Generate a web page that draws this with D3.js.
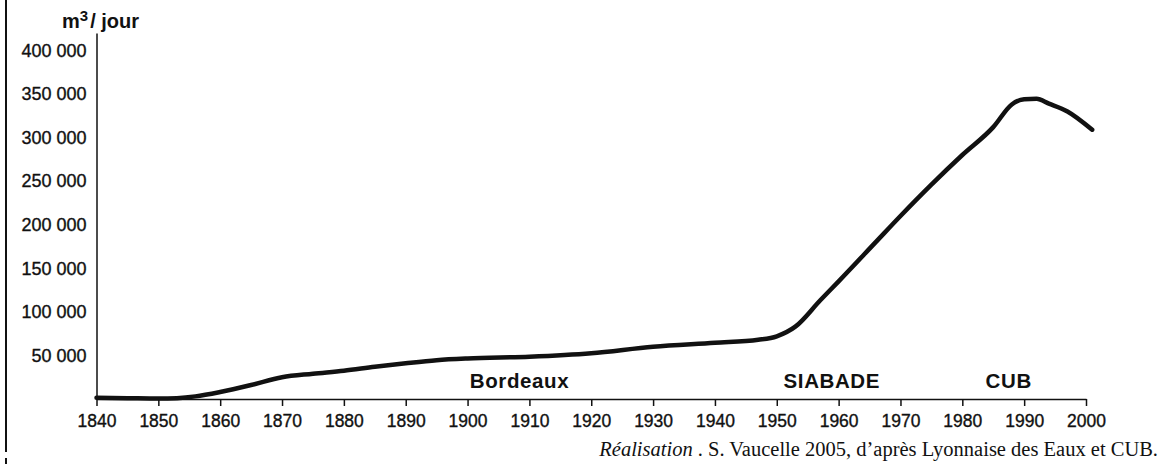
<!DOCTYPE html>
<html>
<head>
<meta charset="utf-8">
<script src="https://cdn.jsdelivr.net/npm/d3@7"></script>
<style>
  body { margin: 0; background: #fff; }
  svg { display: block; }
  .axis text { font-family: "Liberation Sans", Arial, sans-serif; font-size: 17.5px; fill: #111; stroke: #111; stroke-width: 0.35; }
  .axis path, .axis line { stroke: #111; stroke-width: 1.5; }
</style>
</head>
<body>
<div class="canvas"></div>
<script>
// Data (m3 / jour)
const years = [1840, 1845, 1850, 1853, 1856, 1860, 1865, 1870, 1875, 1880, 1885, 1890, 1895, 1900,
  1910, 1920, 1930, 1940, 1947, 1950, 1953, 1957, 1960, 1966, 1970, 1975, 1980, 1985, 1988,
  1990, 1992, 1994, 1997, 2001];
const volumes = [1500, 1000, 500, 1000, 3000, 8000, 16000, 25000, 29000, 32500, 37000, 41000, 44500, 46500,
  48500, 52500, 60000, 64500, 68000, 72000, 83000, 113000, 135000, 180000, 210000, 246000, 280000, 312000, 338000,
  344000, 344500, 339000, 330000, 309000];
const xTicks = d3.range(1840, 2001, 10);
const yTicks = [50000, 100000, 150000, 200000, 250000, 300000, 350000, 400000];
const periods = [
  { name: "Bordeaux", year: 1908.4 },
  { name: "SIABADE", year: 1958.9 },
  { name: "CUB", year: 1987.5 }
];

const width = 1166, height = 465;
const svg = d3.select(".canvas").append("svg")
  .attr("width", width)
  .attr("height", height);

const x = d3.scaleLinear().domain([1840, 2000]).range([96.5, 1086]);
const y = d3.scaleLinear().domain([0, 420000]).range([399, 33]);

const fmt = d3.formatLocale({ decimal: ",", thousands: " ", grouping: [3], currency: ["", ""] }).format(",");

// left frame line
svg.append("line")
  .attr("x1", 6).attr("x2", 6).attr("y1", 0).attr("y2", 452)
  .attr("stroke", "#111").attr("stroke-width", 2);
svg.append("line")
  .attr("x1", 6).attr("x2", 6).attr("y1", 458).attr("y2", 464)
  .attr("stroke", "#111").attr("stroke-width", 2);

// axes
svg.append("g")
  .attr("class", "axis")
  .attr("transform", `translate(0, ${y(0)})`)
  .call(d3.axisBottom(x).tickValues(xTicks).tickFormat(d3.format("d"))
    .tickSize(7).tickSizeOuter(0).tickPadding(9));

svg.append("g")
  .attr("class", "axis")
  .attr("transform", `translate(${x(1840)}, 0)`)
  .call(d3.axisLeft(y).tickValues(yTicks).tickFormat(fmt)
    .tickSize(0).tickSizeOuter(0).tickPadding(10))
  .selectAll("text").style("font-size", "18px");

// unit title
const title = svg.append("text")
  .attr("x", 62).attr("y", 28)
  .attr("font-family", "Liberation Sans, Arial, sans-serif")
  .attr("font-weight", "bold").attr("font-size", 20).attr("fill", "#111");
title.append("tspan").text("m");
title.append("tspan").attr("font-size", 15).attr("dy", -7).text("3");
title.append("tspan").attr("dy", 7).attr("dx", 2).text("/ jour");

// curve
const line = d3.line()
  .x((d, i) => x(years[i]))
  .y(d => y(d))
  .curve(d3.curveMonotoneX);

svg.append("path")
  .datum(volumes)
  .attr("d", line)
  .attr("fill", "none")
  .attr("stroke", "#111")
  .attr("stroke-width", 4.5)
  .attr("stroke-linecap", "round")
  .attr("stroke-linejoin", "round");

// period labels
svg.selectAll(".period")
  .data(periods)
  .enter().append("text")
  .attr("class", "period")
  .attr("x", d => x(d.year))
  .attr("y", 388)
  .attr("text-anchor", "middle")
  .attr("font-family", "Liberation Sans, Arial, sans-serif")
  .attr("font-weight", "bold")
  .attr("font-size", 20.5)
  .attr("letter-spacing", 0.6)
  .attr("fill", "#111")
  .text(d => d.name);

// source
const src = svg.append("text")
  .attr("x", 1158).attr("y", 456)
  .attr("text-anchor", "end")
  .attr("font-family", "Liberation Serif, Times New Roman, serif")
  .attr("font-size", 20.5).attr("fill", "#111");
src.append("tspan").attr("font-style", "italic").text("Réalisation");
src.append("tspan").text(" . S. Vaucelle 2005, d’après Lyonnaise des Eaux et CUB.");
</script>
</body>
</html>
